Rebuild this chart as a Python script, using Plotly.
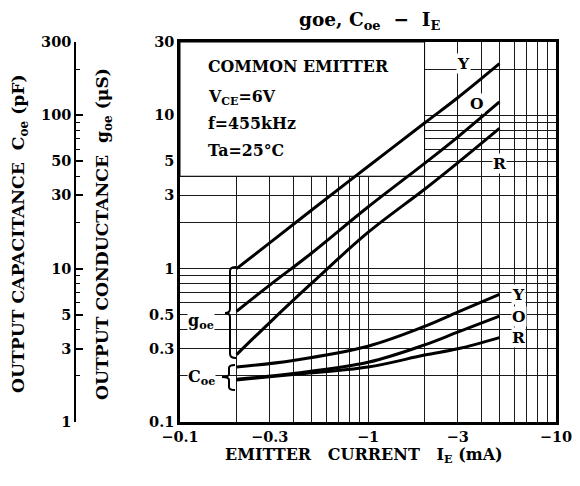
import numpy as np
import plotly.graph_objects as go

# ---------------- data ----------------
# gOE (uS) vs emitter current IE (mA)
ie_g = [-0.2, -0.3, -0.5, -1, -2, -3, -5]
goe_Y = [1.0, 1.47, 2.4, 4.63, 8.9, 13.0, 21.7]
goe_O = [0.527, 0.78, 1.26, 2.52, 4.85, 7.2, 12.2]
goe_R = [0.275, 0.445, 0.80, 1.72, 3.29, 4.89, 8.2]

# Coe (pF) vs emitter current IE (mA)
ie_c = [-0.2, -0.4, -1, -2, -3, -5]
coe_Y = [2.28, 2.52, 3.12, 4.2, 5.2, 6.8]
coe_O = [1.90, 2.07, 2.45, 3.18, 3.85, 4.9]
coe_R = [1.88, 2.04, 2.28, 2.73, 3.0, 3.55]

# ticks / grid
x_major = [0.1, 0.3, 1, 3, 10]
x_text = ["\u22120.1", "\u22120.3", "\u22121", "\u22123", "\u221210"]
x_minor = [0.2, 0.4, 0.5, 0.6, 0.7, 0.8, 0.9, 2, 4, 5, 6, 7, 8, 9]
y_major = [0.1, 0.3, 0.5, 1, 3, 5, 10, 30]
y_text = ["0.1", "0.3", "0.5", "1", "3", "5", "10", "30"]
y_minor = [0.2, 0.4, 0.6, 0.7, 0.8, 0.9, 2, 4, 6, 7, 8, 9, 20]
c_major = [1, 3, 5, 10, 30, 50, 100, 300]
c_minor = [2, 4, 6, 7, 8, 9, 20, 40, 60, 70, 80, 90, 200]

# ---------------- layout helpers ----------------
OFF = 8                      # page body margin (figure starts at 8,8)
W, H = 580 - OFF, 486 - OFF
X0, X1 = 180, 556            # target plot left/right (window px)
Y0, Y1 = 42, 422             # target plot top/bottom (window px)
ML, MR = X0 - OFF - 170, W - (X1 - OFF)
MT, MB = Y0 - OFF, H - (Y1 - OFF)
PW, PH = W - ML - MR, H - MT - MB


def px(x):
    return (x - OFF - ML) / PW


def py(y):
    return (H - MB - (y - OFF)) / PH


FONT = "DejaVu Serif"
fnt = lambda s: dict(family=FONT, size=s, color="black", weight="bold")

fig = go.Figure()

line = dict(color="black", width=3)
absx = lambda a: [abs(v) for v in a]
for ys in (goe_Y, goe_O, goe_R):
    fig.add_trace(go.Scatter(x=absx(ie_g), y=ys, mode="lines", line=line, line_shape="spline",
                             xaxis="x", yaxis="y", showlegend=False, hoverinfo="skip"))
for ys in (coe_Y, coe_O, coe_R):
    fig.add_trace(go.Scatter(x=absx(ie_c), y=ys, mode="lines", line=line,
                             line_shape="spline",
                             xaxis="x", yaxis="y2", showlegend=False, hoverinfo="skip"))

grid = dict(showgrid=True, gridcolor="#1a1a1a", gridwidth=1)
fig.update_layout(
    template="none",
    width=W, height=H,
    margin=dict(l=ML, r=MR, t=MT, b=MB, autoexpand=False),
    paper_bgcolor="white", plot_bgcolor="white",
    xaxis=dict(type="log", range=[-1, 1], domain=[px(X0), 1], automargin=False,
               tickvals=x_major, ticktext=x_text, tickfont=fnt(14.5), ticks="",
               minor=dict(tickvals=x_minor, ticks="", **grid), **grid,
               showline=True, mirror=True, linecolor="black", linewidth=2.5,
               zeroline=False, fixedrange=True),
    yaxis=dict(type="log", range=[-1, np.log10(30)], anchor="x", automargin=False,
               tickvals=y_major, ticktext=y_text, tickfont=fnt(14.5), ticks="",
               minor=dict(tickvals=y_minor, ticks="", **grid), **grid,
               showline=True, mirror=True, linecolor="black", linewidth=2.5,
               zeroline=False, fixedrange=True),
    yaxis2=dict(type="log", range=[0, np.log10(300)], overlaying="y", anchor="free",
                position=px(75), side="left", showgrid=False, automargin=False,
                tickvals=c_major, ticktext=[str(v) for v in c_major],
                ticks="inside", ticklen=7, tickwidth=1.5, tickcolor="black",
                minor=dict(tickvals=c_minor, ticks="inside", ticklen=4,
                           tickwidth=1, tickcolor="black", showgrid=False),
                tickfont=fnt(14.5), showline=True, linecolor="black", linewidth=1.5,
                zeroline=False, fixedrange=True),
)

# white condition box covering the grid (IE -0.1..-2 mA, goe 4..30 uS)
fig.add_shape(type="rect", xref="x", yref="y",
              x0=0.1, x1=2, y0=4, y1=30,
              fillcolor="white", line=dict(color="black", width=1), layer="between")


def brace(xr, xm, xt, yt, yb, ym, r=4):
    pts = [
        f"M {px(xr)},{py(yt)}",
        f"Q {px(xm)},{py(yt)} {px(xm)},{py(yt + r)}",
        f"L {px(xm)},{py(ym - r)}",
        f"Q {px(xm)},{py(ym)} {px(xt)},{py(ym)}",
        f"Q {px(xm)},{py(ym)} {px(xm)},{py(ym + r)}",
        f"L {px(xm)},{py(yb - r)}",
        f"Q {px(xm)},{py(yb)} {px(xr)},{py(yb)}",
    ]
    return " ".join(pts)


fig.add_shape(type="path", xref="paper", yref="paper",
              path=brace(236, 230, 225, 267, 358, 313), line=dict(color="black", width=2))
fig.add_shape(type="path", xref="paper", yref="paper",
              path=brace(235, 229, 222, 365, 390, 377, r=3), line=dict(color="black", width=2))


def ann(x, y, text, size=14, xanchor="center", bg=None, angle=0):
    fig.add_annotation(xref="paper", yref="paper", x=px(x), y=py(y), text=text,
                       showarrow=False, font=fnt(size), xanchor=xanchor, yanchor="middle",
                       bgcolor=bg, textangle=angle, borderpad=0)


SP = "&nbsp;"
ann(369, 21, f"goe, C<sub>oe</sub>{SP*2}\u2212{SP*2}I<sub>E</sub>", size=18.5)
ann(207, 67, "COMMON EMITTER", size=15.8, xanchor="left")
ann(207, 97, "V<sub>CE</sub>=6V", size=15.8, xanchor="left")
ann(207, 123, "f=455kHz", size=15.8, xanchor="left")
ann(207, 150, "Ta=25\u00b0C", size=15.8, xanchor="left")

ann(463, 64, "Y", size=15.5, bg="white")
ann(477, 104, "O", size=15.5, bg="white")
ann(499, 163, "R", size=15.5, bg="white")
ann(511, 294, "Y", size=15.5, xanchor="left", bg="white")
ann(511, 316, "O", size=15.5, xanchor="left", bg="white")
ann(511, 337, "R", size=15.5, xanchor="left", bg="white")

ann(201, 321, "g<sub>oe</sub>", size=16, bg="white")
ann(201, 377, "C<sub>oe</sub>", size=16, bg="white")

ann(364, 455, f"EMITTER{SP*3}CURRENT{SP*3}I<sub>E</sub> (mA)", size=16)
ann(19, 234, f"OUTPUT CAPACITANCE{SP*2}C<sub>oe</sub>{SP}(pF)", size=17.2, angle=-90)
ann(103, 234, f"OUTPUT CONDUCTANCE{SP*2}g<sub>oe</sub>{SP}(\u03bcS)", size=17.2, angle=-90)

fig.write_html("out.html")
